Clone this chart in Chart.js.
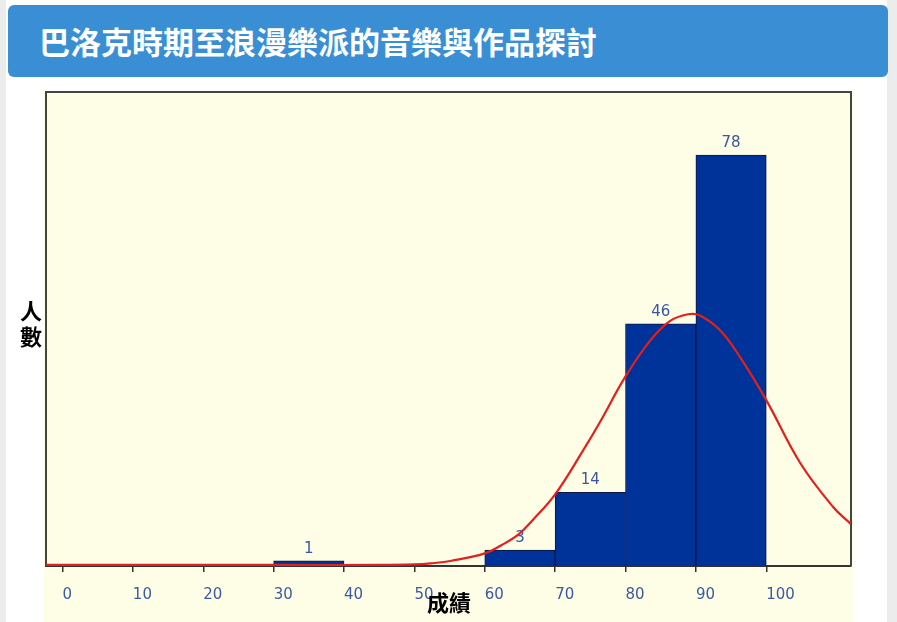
<!DOCTYPE html>
<html><head><meta charset="utf-8">
<script src="https://cdn.jsdelivr.net/npm/chart.js@4"></script>
<style>
html,body{margin:0;padding:0;width:897px;height:622px;overflow:hidden;background:#fff;}
#lstrip{position:absolute;left:0;top:0;width:6px;height:622px;background:#ececec;}
#rstrip{position:absolute;left:887px;top:0;width:10px;height:622px;background:#ececec;}
#title{position:absolute;left:8px;top:5px;width:880px;height:72px;background:#3a8fd4;border-radius:6px;color:#fff;font-family:"Noto Sans CJK TC";font-weight:bold;font-size:31px;line-height:72px;padding-left:31px;box-sizing:border-box;white-space:nowrap;}
#c{position:absolute;left:0;top:0;}
</style>
</head><body>
<div id="lstrip"></div><div id="rstrip"></div>
<canvas id="c" width="897" height="622"></canvas>
<div id="title">巴洛克時期至浪漫樂派的音樂與作品探討</div>
<script>
const titleText = '巴洛克時期至浪漫樂派的音樂與作品探討';
const xTitle = '成績';
const yTitle = ['人', '數'];
const scoreTicks = [0, 10, 20, 30, 40, 50, 60, 70, 80, 90, 100];
const binStart = [30, 60, 70, 80, 90];
const binEnd = [40, 70, 80, 90, 100];
const counts = [1, 3, 14, 46, 78];
const curveX = [-2.3, 10, 30, 45, 50, 52.3, 55.3, 60, 62.3, 64.8, 66.8, 70, 74, 76.4, 80, 83.5, 86.3, 88.9, 90.5, 93.4, 96.2, 100, 104.8, 109.5, 112];
const curveY = [0.2, 0.2, 0.2, 0.2, 0.3, 0.5, 1.0, 2.4, 3.9, 6.0, 8.7, 13.6, 22.0, 27.4, 36.0, 42.8, 46.5, 47.8, 47.6, 44.8, 39.8, 31.5, 19.6, 11.2, 8.0];

const barData = counts.map((v, i) => ({x: (binStart[i] + binEnd[i]) / 2, y: v}));
const curveData = curveX.map((x, i) => ({x: x, y: curveY[i]}));

const decor = {
  id: 'decor',
  beforeDraw(chart) {
    const ctx = chart.ctx;
    ctx.save();
    ctx.fillStyle = '#fefde6';
    ctx.fillRect(44, 91, 809, 531);
    ctx.restore();
  },
  beforeDatasetsDraw(chart) {
    const ctx = chart.ctx, a = chart.chartArea;
    ctx.save();
    ctx.strokeStyle = '#444';
    ctx.lineWidth = 2;
    ctx.beginPath();
    ctx.moveTo(a.left, a.bottom);
    ctx.lineTo(a.left, a.top);
    ctx.lineTo(a.right, a.top);
    ctx.lineTo(a.right, a.bottom);
    ctx.stroke();
    ctx.restore();
  },
  afterDatasetDraw(chart, args) {
    if (args.meta.type !== 'bar') return;
    const ctx = chart.ctx;
    ctx.save();
    ctx.fillStyle = '#3a56a0';
    ctx.font = '15px "DejaVu Sans"';
    ctx.textAlign = 'center';
    ctx.textBaseline = 'alphabetic';
    args.meta.data.forEach((el, i) => {
      ctx.fillText(String(counts[i]), el.x, el.y - 8);
    });
    ctx.restore();
  },
  afterDraw(chart) {
    const ctx = chart.ctx;
    ctx.save();
    ctx.fillStyle = '#000';
    ctx.textAlign = 'center';
    ctx.textBaseline = 'middle';
    ctx.font = 'bold 22px "Noto Sans CJK TC"';
    ctx.fillText(xTitle, 449, 603);
    ctx.font = 'bold 22px "Noto Sans CJK TC"';
    ctx.fillText(yTitle[0], 31, 311);
    ctx.fillText(yTitle[1], 31, 337);
    ctx.restore();
  }
};

new Chart(document.getElementById('c'), {
  type: 'bar',
  data: {
    datasets: [
      {
        type: 'line',
        data: curveData,
        borderColor: '#e2201c',
        borderWidth: 2.2,
        pointRadius: 0,
        tension: 0.4,
        fill: false
      },
      {
        type: 'bar',
        data: barData,
        backgroundColor: '#00339a',
        borderColor: '#0a1640',
        borderWidth: 1,
        barPercentage: 1,
        categoryPercentage: 1,
        grouped: false
      }
    ]
  },
  options: {
    responsive: false,
    animation: false,
    devicePixelRatio: 1,
    layout: {padding: {left: 46, right: 46, top: 92, bottom: 0}},
    plugins: {legend: {display: false}, tooltip: {enabled: false}, title: {display: false}},
    scales: {
      x: {
        type: 'linear',
        min: -2.344,
        max: 112.04,
        offset: false,
        afterBuildTicks: s => { s.ticks = scoreTicks.map(v => ({value: v})); },
        afterFit: s => { s.height = 56; },
        grid: {offset: false, drawOnChartArea: false, drawTicks: true, tickLength: 6, color: '#333', lineWidth: 1.5},
        border: {display: true, color: '#333', width: 2},
        ticks: {
          align: 'start', autoSkip: false, maxRotation: 0, minRotation: 0, padding: 14,
          color: '#3b5ba0', font: {family: 'DejaVu Sans', size: 15},
          callback: v => String(v)
        }
      },
      y: {display: false, min: 0, max: 90}
    }
  },
  plugins: [decor]
});
</script>
</body></html>
